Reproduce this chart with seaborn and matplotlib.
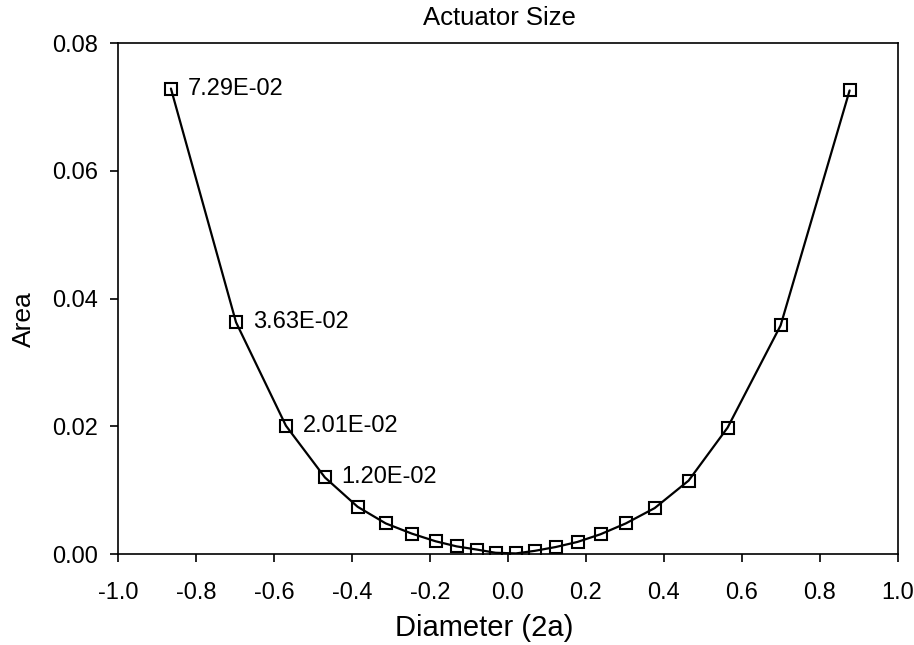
import matplotlib
matplotlib.use('Agg')
import matplotlib.pyplot as plt
import seaborn as sns
import pandas as pd

# Values
diameter = [-0.864, -0.697, -0.569, -0.469, -0.385, -0.313, -0.246, -0.185,
            -0.131, -0.079, -0.031, 0.021, 0.069, 0.123, 0.179, 0.238,
            0.303, 0.377, 0.464, 0.564, 0.700, 0.877]
area = [0.0729, 0.0363, 0.0201, 0.0120, 0.0074, 0.0048, 0.0032, 0.0020,
        0.0012, 0.0007, 0.0002, 0.0001, 0.0005, 0.0011, 0.0019, 0.0031,
        0.0048, 0.0072, 0.0115, 0.0198, 0.0358, 0.0726]
labelled_points = 4  # the first four points carry value labels

x_ticks = [-1.0, -0.8, -0.6, -0.4, -0.2, 0.0, 0.2, 0.4, 0.6, 0.8, 1.0]
y_ticks = [0.00, 0.02, 0.04, 0.06, 0.08]

df = pd.DataFrame({'Diameter': diameter, 'Area': area})

sns.set_style('ticks')
plt.rcParams['font.family'] = ['Liberation Sans', 'DejaVu Sans']
plt.rcParams['text.color'] = 'black'
plt.rcParams['axes.labelcolor'] = 'black'
plt.rcParams['xtick.color'] = 'black'
plt.rcParams['ytick.color'] = 'black'

fig = plt.figure(figsize=(9.14, 6.45), dpi=100)
ax = fig.add_axes([0.129, 0.141, 0.853, 0.792])

sns.lineplot(data=df, x='Diameter', y='Area', ax=ax, color='black',
             linewidth=1.6, marker='s', markersize=8,
             markerfacecolor='none', markeredgecolor='black',
             markeredgewidth=1.5, sort=False)

# Value labels on the left branch
for xv, yv in zip(diameter[:labelled_points], area[:labelled_points]):
    ax.annotate(f'{yv:.2E}', (xv, yv), xytext=(12, 0),
                textcoords='offset points', va='center', ha='left',
                fontsize=17, color='black')

ax.set_xlim(-1.0, 1.0)
ax.set_ylim(0.0, 0.08)
ax.set_xticks(x_ticks)
ax.set_xticklabels([f'{t:.1f}' for t in x_ticks])
ax.set_yticks(y_ticks)
ax.set_yticklabels([f'{t:.2f}' for t in y_ticks])

ax.tick_params(axis='x', direction='out', length=6, width=1.2, labelsize=17,
               pad=14, color='black', labelcolor='black')
ax.tick_params(axis='y', direction='out', length=6, width=1.2, labelsize=17,
               pad=8, color='black', labelcolor='black')

for side in ['top', 'right', 'left', 'bottom']:
    ax.spines[side].set_visible(True)
    ax.spines[side].set_color('black')
    ax.spines[side].set_linewidth(1.2)

ax.set_xlabel('Diameter (2a)', fontsize=21, color='black')
ax.set_ylabel('Area', fontsize=19, color='black')
ax.xaxis.set_label_coords(0.47, -0.118)
ax.yaxis.set_label_coords(-0.105, 0.46)
ax.set_title('Actuator Size', fontsize=18.5, pad=13, color='black', x=0.49)

plt.savefig('out.png', dpi=100)
plt.close()
